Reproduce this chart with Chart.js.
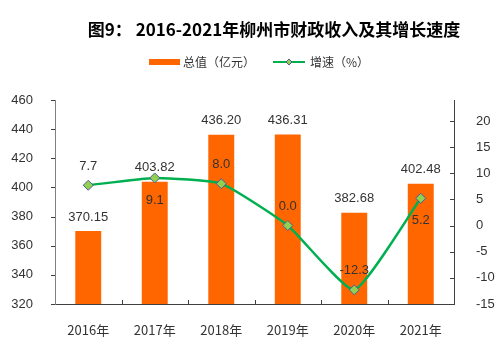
<!DOCTYPE html>
<html>
<head>
<meta charset="utf-8">
<script src="https://cdn.jsdelivr.net/npm/chart.js@4.4.1/dist/chart.umd.min.js"></script>
<style>
  html, body { margin: 0; padding: 0; background: #fff; }
  #wrap { width: 500px; height: 351px; }
</style>
</head>
<body>
<div id="wrap"><canvas id="myChart" width="500" height="351"></canvas></div>
<script>
// data
var years = ['2016年', '2017年', '2018年', '2019年', '2020年', '2021年'];
var totals = [370.15, 403.82, 436.20, 436.31, 382.68, 402.48];
var growth = [7.7, 9.1, 8.0, 0.0, -12.3, 5.2];
var growthLabelBelow = [false, true, false, false, false, true];
var rightTicks = [-15, -10, -5, 0, 5, 10, 15, 20];

var titleText = '图9： 2016-2021年柳州市财政收入及其增长速度';
var legendBar = '总值（亿元）';
var legendLine = '增速（%）';

var orange = '#FF6600';
var green = '#00B050';
var axisColor = '#404040';
var textColor = '#333333';
var numFont = '13px "Liberation Sans", Arial, sans-serif';

// title, legend, value labels and tick marks
var decorPlugin = {
    id: 'decor',
    afterDraw: function(chart) {
        var c = chart.ctx;
        var area = chart.chartArea;
        c.save();

        // title
        c.fillStyle = '#000';
        c.font = 'bold 17px "Noto Sans CJK SC", sans-serif';
        c.textAlign = 'center';
        c.textBaseline = 'middle';
        c.fillText(titleText, 274, 30);

        // legend
        c.font = '12px "Noto Sans CJK SC", sans-serif';
        c.textAlign = 'left';
        c.fillStyle = orange;
        c.fillRect(149, 59, 31, 6);
        c.fillStyle = textColor;
        c.fillText(legendBar, 183, 62);
        c.strokeStyle = green;
        c.lineWidth = 2;
        c.beginPath();
        c.moveTo(273, 62);
        c.lineTo(305, 62);
        c.stroke();
        drawDiamond(c, 289, 62, 3);
        c.fillStyle = textColor;
        c.fillText(legendLine, 310, 62);

        // tick marks
        c.strokeStyle = axisColor;
        c.lineWidth = 1;
        var yL = chart.scales.y;
        yL.ticks.forEach(function(t) {
            var py = Math.round(yL.getPixelForValue(t.value)) + 0.5;
            c.beginPath();
            c.moveTo(area.left - 4, py);
            c.lineTo(area.left, py);
            c.stroke();
        });
        var yR = chart.scales.y1;
        rightTicks.forEach(function(v) {
            var py = Math.round(yR.getPixelForValue(v)) + 0.5;
            c.beginPath();
            c.moveTo(area.right - 4, py);
            c.lineTo(area.right, py);
            c.stroke();
        });
        var step = (area.right - area.left) / years.length;
        for (var i = 1; i < years.length; i++) {
            var px = Math.round(area.left + i * step) + 0.5;
            c.beginPath();
            c.moveTo(px, area.bottom);
            c.lineTo(px, area.bottom - 4);
            c.stroke();
        }

        // value labels
        c.font = numFont;
        c.fillStyle = textColor;
        c.textAlign = 'center';
        c.textBaseline = 'middle';
        var barMeta = chart.getDatasetMeta(0);
        barMeta.data.forEach(function(el, i) {
            c.fillText(totals[i].toFixed(2), el.x, el.y - 14);
        });
        var lineMeta = chart.getDatasetMeta(1);
        lineMeta.data.forEach(function(el, i) {
            var dy = growthLabelBelow[i] ? 22 : -19;
            c.fillText(growth[i].toFixed(1), el.x, el.y + dy);
        });
        c.restore();
    }
};

function drawDiamond(c, x, y, r) {
    c.save();
    c.fillStyle = '#92D050';
    c.strokeStyle = '#4F5B9A';
    c.lineWidth = 1;
    c.beginPath();
    c.moveTo(x, y - r);
    c.lineTo(x + r, y);
    c.lineTo(x, y + r);
    c.lineTo(x - r, y);
    c.closePath();
    c.fill();
    c.stroke();
    c.restore();
}

var ctx = document.getElementById('myChart').getContext('2d');
var myChart = new Chart(ctx, {
    type: 'bar',
    data: {
        labels: years,
        datasets: [{
            type: 'bar',
            label: legendBar,
            data: totals,
            backgroundColor: orange,
            barPercentage: 0.39,
            categoryPercentage: 1.0,
            yAxisID: 'y',
            order: 2
        }, {
            type: 'line',
            label: legendLine,
            data: growth,
            borderColor: green,
            borderWidth: 2.5,
            pointStyle: 'rectRot',
            pointRadius: 5,
            pointBackgroundColor: '#92D050',
            pointBorderColor: '#4F5B9A',
            pointBorderWidth: 1,
            tension: 0.15,
            yAxisID: 'y1',
            order: 1
        }]
    },
    options: {
        responsive: false,
        animation: false,
        layout: {
            padding: { top: 100, right: 0, bottom: 0, left: 0 }
        },
        plugins: {
            legend: { display: false },
            title: { display: false },
            tooltip: { enabled: false }
        },
        scales: {
            x: {
                offset: true,
                grid: { display: false, offset: true },
                border: { display: true, color: axisColor, width: 1 },
                ticks: { color: textColor, font: { size: 13, family: '"Noto Sans CJK SC", sans-serif' }, padding: 10 },
                afterFit: function(s) { s.height = 47; }
            },
            y: {
                position: 'left',
                min: 320,
                max: 460,
                ticks: { stepSize: 20, color: textColor, font: { size: 13, family: '"Liberation Sans", Arial, sans-serif' }, padding: 14 },
                grid: { display: false },
                border: { display: true, color: '#7f7f7f', width: 1 },
                afterFit: function(s) { s.width = 55; }
            },
            y1: {
                position: 'right',
                min: -15,
                max: 24,
                ticks: { stepSize: 5, color: textColor, font: { size: 13, family: '"Liberation Sans", Arial, sans-serif' }, padding: 14 },
                afterBuildTicks: function(s) {
                    s.ticks = rightTicks.map(function(v) { return { value: v }; });
                },
                grid: { display: false },
                border: { display: true, color: axisColor, width: 1 },
                afterFit: function(s) { s.width = 46; }
            }
        }
    },
    plugins: [decorPlugin]
});
</script>
</body>
</html>
